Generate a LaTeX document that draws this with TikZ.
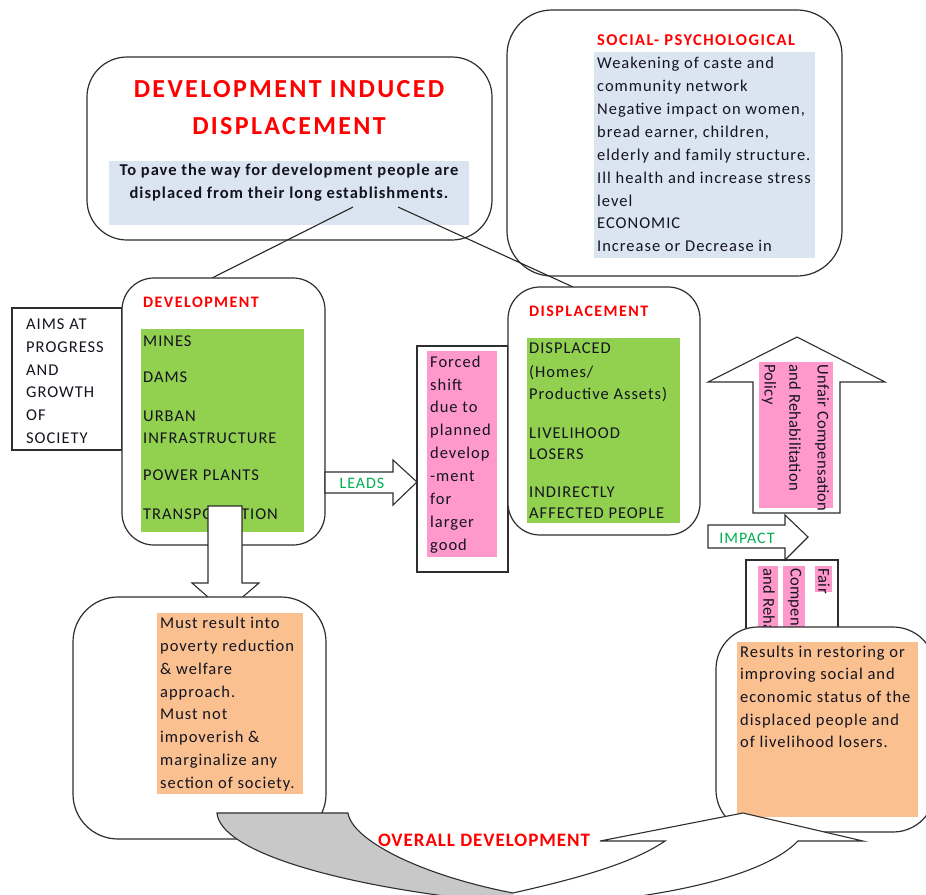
\documentclass[tikz,border=0pt]{standalone}
\usepackage{fontspec}
\setmainfont{Carlito}
\newfontfamily\bodyf[LetterSpace=6]{Carlito}
\newfontfamily\headf[LetterSpace=9]{Carlito}
\newfontfamily\subf[LetterSpace=5]{Carlito}
\newfontfamily\vertf[LetterSpace=2]{Carlito}

\definecolor{hred}{HTML}{FF0000}
\definecolor{leaf}{HTML}{92D050}
\definecolor{rose}{HTML}{FF99CC}
\definecolor{peach}{HTML}{FAC090}
\definecolor{mist}{HTML}{DBE5F1}
\definecolor{ink}{HTML}{141420}
\definecolor{arrowtxt}{HTML}{00B050}
\definecolor{fold}{HTML}{C8C8C8}

\tikzset{
  outline/.style={draw=black!82, line width=1.2pt, fill=white},
  rbox/.style={outline, rounded corners=#1},
  panel/.style={fill=#1, draw=none},
  body/.style={anchor=base west, inner sep=0pt, text=ink,
    font=\bodyf\fontsize{16.5}{19}\selectfont},
  sect/.style={anchor=base west, inner sep=0pt, text=hred,
    font=\headf\bfseries\fontsize{16}{19}\selectfont},
  vert/.style={anchor=west, inner sep=0pt, rotate=-90, text=ink,
    font=\vertf\fontsize{16.5}{19}\selectfont},
  arrowlbl/.style={inner sep=0pt, text=arrowtxt,
    font=\bodyf\fontsize{16}{19}\selectfont},
  link/.style={draw=black!85, line width=1.1pt},
}

\begin{document}
\begin{tikzpicture}[x=1pt, y=-1pt]
\useasboundingbox (0,0) rectangle (926,894);
\clip (0,0) rectangle (926,894);

% ---------- social-psychological panel ----------
\draw[rbox=45pt] (507,10) rectangle (842,276);
\fill[panel=mist] (594,52) rectangle (815,258);
\node[sect, font=\headf\bfseries\fontsize{16.5}{19}\selectfont] (sp) at (597,45) {SOCIAL- PSYCHOLOGICAL};
\node[body] (s1) at (597,68) {Weakening of caste and};
\node[body] (s2) at (597,91) {community network};
\node[body] (s3) at (597,114) {Negative impact on women,};
\node[body] (s4) at (597,137) {bread earner, children,};
\node[body] (s5) at (597,160) {elderly and family structure.};
\node[body] (s6) at (597,183) {Ill health and increase stress};
\node[body] (s7) at (597,206) {level};
\node[body] (s8) at (597,228) {ECONOMIC};
\node[body] (s9) at (597,251) {Increase or Decrease in};

% ---------- title panel ----------
\draw[rbox=40pt] (87,57) rectangle (492,240);
\fill[panel=mist] (109,161) rectangle (469,225);
\node[anchor=base, inner sep=0pt, text=hred, font=\headf\bfseries\fontsize{26}{30}\selectfont] (t1) at (289,97) {DEVELOPMENT INDUCED};
\node[anchor=base, inner sep=0pt, text=hred, font=\headf\bfseries\fontsize{26}{30}\selectfont] (t2) at (289,134) {DISPLACEMENT};
\node[anchor=base, inner sep=0pt, text=ink, font=\bodyf\bfseries\fontsize{16.5}{19}\selectfont] (t3) at (289,175) {To pave the way for development people are};
\node[anchor=base, inner sep=0pt, text=ink, font=\bodyf\bfseries\fontsize{16.5}{19}\selectfont] (t4) at (289,198) {displaced from their long establishments.};

% ---------- connectors from the title panel ----------
\coordinate (hubL) at (353,207);
\coordinate (hubR) at (398,207);
\coordinate (devTop) at (212,278);
\coordinate (disTop) at (573,287);
\draw[link] (hubL) -- (devTop);
\draw[link] (hubR) -- (disTop);

% ---------- aims box ----------
\draw[outline] (12,308) rectangle (122,450);
\node[body] (a1) at (26,329) {AIMS AT};
\node[body] (a2) at (26,352) {PROGRESS};
\node[body] (a3) at (26,375) {AND};
\node[body] (a4) at (26,397) {GROWTH};
\node[body] (a5) at (26,420) {OF};
\node[body] (a6) at (26,443) {SOCIETY};

% ---------- development box ----------
\draw[rbox=32pt] (122,278) rectangle (325,545);
\fill[panel=leaf] (141,329) rectangle (304,532);
\node[sect] (dev) at (143,307) {DEVELOPMENT};
\node[body] (d1) at (143,346) {MINES};
\node[body] (d2) at (143,382) {DAMS};
\node[body] (d3) at (143,421) {URBAN};
\node[body] (d4) at (143,443) {INFRASTRUCTURE};
\node[body] (d5) at (143,480) {POWER PLANTS};
\node[body] (d6) at (143,519) {TRANSPORTATION};

% down arrow towards the welfare box
\draw[outline, line width=1.1pt] (208,506) -- (242,506) -- (242,583) -- (259,583)
  -- (225,612) -- (192,583) -- (208,583) -- cycle;

% ---------- welfare box ----------
\draw[rbox=45pt] (73,597) rectangle (326,839);
\fill[panel=peach] (157,613) rectangle (303,794);
\node[body] (w1) at (160,628) {Must result into};
\node[body] (w2) at (160,651) {poverty reduction};
\node[body] (w3) at (160,674) {\& welfare};
\node[body] (w4) at (160,697) {approach.};
\node[body] (w5) at (160,719) {Must not};
\node[body] (w6) at (160,742) {impoverish \&};
\node[body] (w7) at (160,765) {marginalize any};
\node[body] (w8) at (160,788) {section of society.};

% ---------- leads arrow ----------
\draw[outline, line width=1.1pt] (325,472) -- (393,472) -- (393,460) -- (417,482)
  -- (393,505) -- (393,493) -- (325,493) -- cycle;
\node[arrowlbl] (leads) at (362,483) {LEADS};

% ---------- forced shift box ----------
\draw[outline] (417,346) rectangle (508,572);
\fill[panel=rose] (427,351) rectangle (497,557);
\node[body] (f1) at (430,367) {Forced};
\node[body] (f2) at (430,390) {shift};
\node[body] (f3) at (430,412) {due to};
\node[body] (f4) at (430,435) {planned};
\node[body] (f5) at (430,458) {develop};
\node[body] (f6) at (430,481) {-ment};
\node[body] (f7) at (430,504) {for};
\node[body] (f8) at (430,527) {larger};
\node[body] (f9) at (430,550) {good};

% ---------- displacement box ----------
\draw[rbox=32pt] (508,287) rectangle (700,535);
\fill[panel=leaf] (527,338) rectangle (680,523);
\node[sect] (dis) at (529,316) {DISPLACEMENT};
\node[body] (p1) at (529,353) {DISPLACED};
\node[body] (p2) at (529,377) {(Homes/};
\node[body] (p3) at (529,399) {Productive Assets)};
\node[body] (p4) at (529,438) {LIVELIHOOD};
\node[body] (p5) at (529,459) {LOSERS};
\node[body] (p6) at (529,497) {INDIRECTLY};
\node[body] (p7) at (529,518) {AFFECTED PEOPLE};

% ---------- unfair policy arrow ----------
\draw[outline, line width=1.1pt] (753,513) -- (753,382) -- (708,382) -- (797,337)
  -- (885,382) -- (840,382) -- (840,513) -- cycle;
\fill[panel=rose] (759,362) rectangle (833,508);
\node[vert] (u1) at (822,364) {Unfair Compensation};
\node[vert] (u2) at (795,364) {and Rehabilitation};
\node[vert] (u3) at (769,364) {Policy};

% ---------- fair policy box ----------
\draw[outline] (746,560) rectangle (838,660);
\fill[panel=rose] (815,566) rectangle (832,592);
\fill[panel=rose] (783,566) rectangle (805,650);
\fill[panel=rose] (758,566) rectangle (778,650);
\node[vert] (g1) at (824,568) {Fair};
\node[vert] (g2) at (795,568) {Compensation};
\node[vert] (g3) at (769,568) {and Rehabilitation};

% ---------- impact arrow ----------
\draw[outline, line width=1.1pt] (708,525) -- (785,525) -- (785,515) -- (808,537)
  -- (785,560) -- (785,548) -- (708,548) -- cycle;
\node[arrowlbl] (impact) at (747,538) {IMPACT};

% ---------- restoring box ----------
\draw[rbox=42pt] (716,627) rectangle (935,832);
\fill[panel=peach] (737,642) rectangle (918,817);
\node[body] (r1) at (740,657) {Results in restoring or};
\node[body] (r2) at (740,679) {improving social and};
\node[body] (r3) at (740,702) {economic status of the};
\node[body] (r4) at (740,725) {displaced people and};
\node[body] (r5) at (740,747) {of livelihood losers.};

% ---------- overall development curved arrow ----------
\fill[fold] (217,813) -- (348,813) .. controls (352,840) and (420,875) .. (513,893)
  -- (513,902) -- (495,902) .. controls (330,885) and (220,850) .. (217,813) -- cycle;
\draw[black!82, line width=1.1pt] (495,902) .. controls (330,885) and (220,850) .. (217,813)
  -- (348,813) .. controls (352,840) and (420,875) .. (513,893);
\fill[white] (513,893) .. controls (570,880) and (630,865) .. (665,841) -- (600,841)
  -- (743,813) -- (863,841) -- (798,841) .. controls (760,880) and (650,898) .. (560,905)
  -- (513,905) -- cycle;
\draw[black!82, line width=1.1pt] (513,893) .. controls (570,880) and (630,865) .. (665,841)
  -- (600,841) -- (743,813) -- (863,841) -- (798,841)
  .. controls (760,880) and (650,898) .. (560,905);
\node[inner sep=0pt, text=hred, font=\subf\bfseries\fontsize{19}{22}\selectfont] (overall) at (484,840) {OVERALL DEVELOPMENT};

\end{tikzpicture}
\end{document}
